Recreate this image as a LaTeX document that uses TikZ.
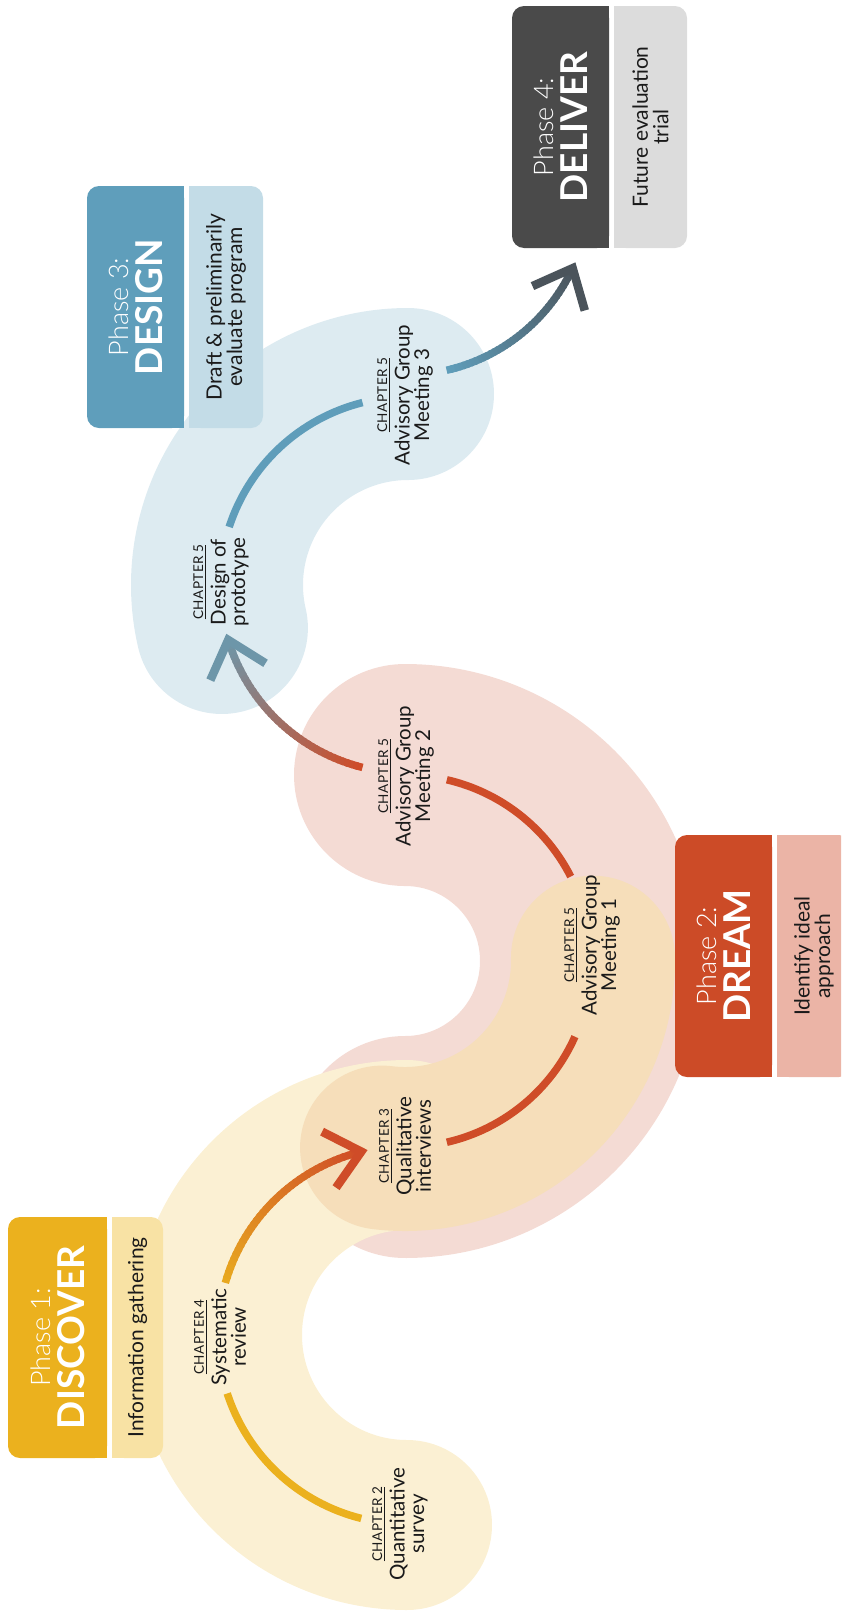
\documentclass[tikz,border=0pt]{standalone}
\usepackage{fontspec}
\setmainfont{Lato}
\IfFontExistsTF{Lato Light}{\newfontfamily\lightfont{Lato Light}}{\newfontfamily\lightfont{Lato}}
\definecolor{bandY}{HTML}{FBF0D3}
\definecolor{bandP}{HTML}{F4DBD4}
\definecolor{bandO}{HTML}{F6DEBA}
\definecolor{bandB}{HTML}{DDEBF1}
\definecolor{yelD}{HTML}{EBB11E}
\definecolor{yelL}{HTML}{F8E2A4}
\definecolor{redD}{HTML}{CC4B27}
\definecolor{redL}{HTML}{EBB4A6}
\definecolor{bluD}{HTML}{5F9EBB}
\definecolor{bluL}{HTML}{C3DCE7}
\definecolor{gryD}{HTML}{4A4A4A}
\definecolor{gryL}{HTML}{DCDCDC}
\definecolor{arcY}{HTML}{EBB11E}
\definecolor{arcO}{HTML}{E8A81F}
\definecolor{arcR}{HTML}{CF4C28}
\definecolor{arcB}{HTML}{5F9DBA}
\definecolor{arcG}{HTML}{6D96A9}
\definecolor{arcK}{HTML}{4B545B}
\definecolor{ink}{HTML}{1A1A1A}
\newsavebox\chapbox
\newcommand{\chap}[1]{\sbox\chapbox{\fontsize{13.5}{14}\selectfont\addfontfeatures{LetterSpace=3}CHAPTER #1}\usebox\chapbox\llap{\rule[-3pt]{\wd\chapbox}{1.1pt}}}
\newcommand{\gradarc}[6]{%
  \foreach \k in {1,...,40}{%
    \pgfmathsetmacro{\aA}{#3+(#4-#3)*(\k-1)/40}%
    \pgfmathsetmacro{\aB}{#3+(#4-#3)*min(\k+0.5,40)/40}%
    \pgfmathtruncatemacro{\pc}{100*(\k-1)/39}%
    \draw[conn, draw=#6!\pc!#5] ([shift={(\aA:#2)}]#1) arc[start angle=\aA, end angle=\aB, radius=#2];
  }%
}
\newcommand{\chevron}[5]{%
  \pgfmathsetmacro{\bA}{#4+180-41}\pgfmathsetmacro{\bB}{#4+180+41}%
  \draw[chev, draw=#5] ([shift={(#3:#2)}]#1) ++(\bA:44) -- ([shift={(#3:#2)}]#1) -- ++(\bB:44);
}
\newcommand{\phasebox}[7]{%
  \fill[#6, rounded corners=12pt] (#1,#4) rectangle (#2,#5);
  \fill[#6] (#2-20,#4) rectangle (#2,#5);
  \fill[#7, rounded corners=12pt] (#2+5,#4) rectangle (#3,#5);
  \fill[#7] (#2+5,#4) rectangle (#2+25,#5);
}
\tikzset{
  lbl/.style={rotate=90, align=center, text=ink, inner sep=0pt, font=\fontsize{20.5}{19.5}\selectfont},
  ptitle/.style={rotate=90, align=center, text=white, inner sep=0pt, font=\fontsize{37}{34}\selectfont},
  pdesc/.style={rotate=90, align=center, text=ink, inner sep=0pt, font=\fontsize{21}{20.5}\selectfont},
  conn/.style={line width=7.5pt, line cap=butt},
  chev/.style={line width=8.5pt, line join=miter, miter limit=10, line cap=butt},
}
\begin{document}
\begin{tikzpicture}[x=1pt, y=1pt]
\useasboundingbox (0,0) rectangle (841,-1614);
\clip (0,0) rectangle (841,-1614);
\coordinate (c1) at (407,-1335);
\coordinate (c2) at (405,-961);
\coordinate (c3) at (408,-585);
\coordinate (c4) at (405,-190);
% bands
\draw[bandP, line width=222pt, line cap=round] ([shift={(-90:186)}]c2) arc[start angle=-90, end angle=90, radius=186];
\draw[bandY, line width=170pt, line cap=round] ([shift={(270:190)}]c1) arc[start angle=270, end angle=90, radius=190];
\draw[bandO, line width=164pt, line cap=round] ([shift={(-97:188)}]c2) arc[start angle=-97, end angle=1, radius=188];
\draw[bandB, line width=172pt, line cap=round] ([shift={(193:191)}]c3) arc[start angle=193, end angle=90, radius=191];
% connectors
\draw[conn, arcY] ([shift={(256:189)}]c1) arc[start angle=256, end angle=198, radius=189];
\gradarc{c1}{189}{164}{104}{arcO}{arcR}
\chevron{c1}{189}{104}{14}{arcR}
\draw[conn, arcR] ([shift={(-77:186)}]c2) arc[start angle=-77, end angle=-24, radius=186];
\draw[conn, arcR] ([shift={(27:186)}]c2) arc[start angle=27, end angle=77, radius=186];
\gradarc{c3}{188}{256}{197}{arcR}{arcG}
\chevron{c3}{188}{197}{107}{arcG}
\draw[conn, arcB] ([shift={(162:188)}]c3) arc[start angle=162, end angle=104, radius=188];
\gradarc{c4}{185}{-77}{-25}{arcB}{arcK}
\chevron{c4}{185}{-25}{65}{arcK}
% labels
\node[lbl] (qs) at (400,-1524) {\chap{2}\\[3pt]Quantitative\\survey};
\node[lbl] (sr) at (220,-1337) {\chap{4}\\[3pt]Systematic\\review};
\node[lbl] (qi) at (405,-1146) {\chap{3}\\[3pt]Qualitative\\interviews};
\node[lbl] (m1) at (592,-945) {\chap{5}\\[3pt]Advisory Group\\Meeting 1};
\node[lbl] (m2) at (406,-776) {\chap{5}\\[3pt]Advisory Group\\Meeting 2};
\node[lbl] (dp) at (221,-582) {\chap{5}\\[3pt]Design of\\prototype};
\node[lbl] (m3) at (405,-395) {\chap{5}\\[3pt]Advisory Group\\Meeting 3};
% phase boxes
\phasebox{8}{107}{163}{-1217}{-1458}{yelD}{yelL}
\phasebox{675}{772}{851}{-835}{-1077}{redD}{redL}
\phasebox{87}{184}{263}{-186}{-428}{bluD}{bluL}
\phasebox{512}{609}{687}{-6}{-248}{gryD}{gryL}
\node[ptitle] (p1) at (57.5,-1337.5) {{\lightfont\fontsize{27}{27}\selectfont Phase 1:}\\{\bfseries DISCOVER}};
\node[pdesc] (d1) at (137.5,-1337.5) {Information gathering};
\node[ptitle] (p2) at (723.5,-956) {{\lightfont\fontsize{27}{27}\selectfont Phase 2:}\\{\bfseries DREAM}};
\node[pdesc] (d2) at (814,-956) {Identify ideal\\approach};
\node[ptitle] (p3) at (135.5,-307) {{\lightfont\fontsize{27}{27}\selectfont Phase 3:}\\{\bfseries DESIGN}};
\node[pdesc] (d3) at (226,-307) {Draft \& preliminarily\\evaluate program};
\node[ptitle] (p4) at (560.5,-127) {{\lightfont\fontsize{27}{27}\selectfont Phase 4:}\\{\bfseries DELIVER}};
\node[pdesc] (d4) at (650.5,-127) {Future evaluation\\trial};
\end{tikzpicture}
\end{document}
